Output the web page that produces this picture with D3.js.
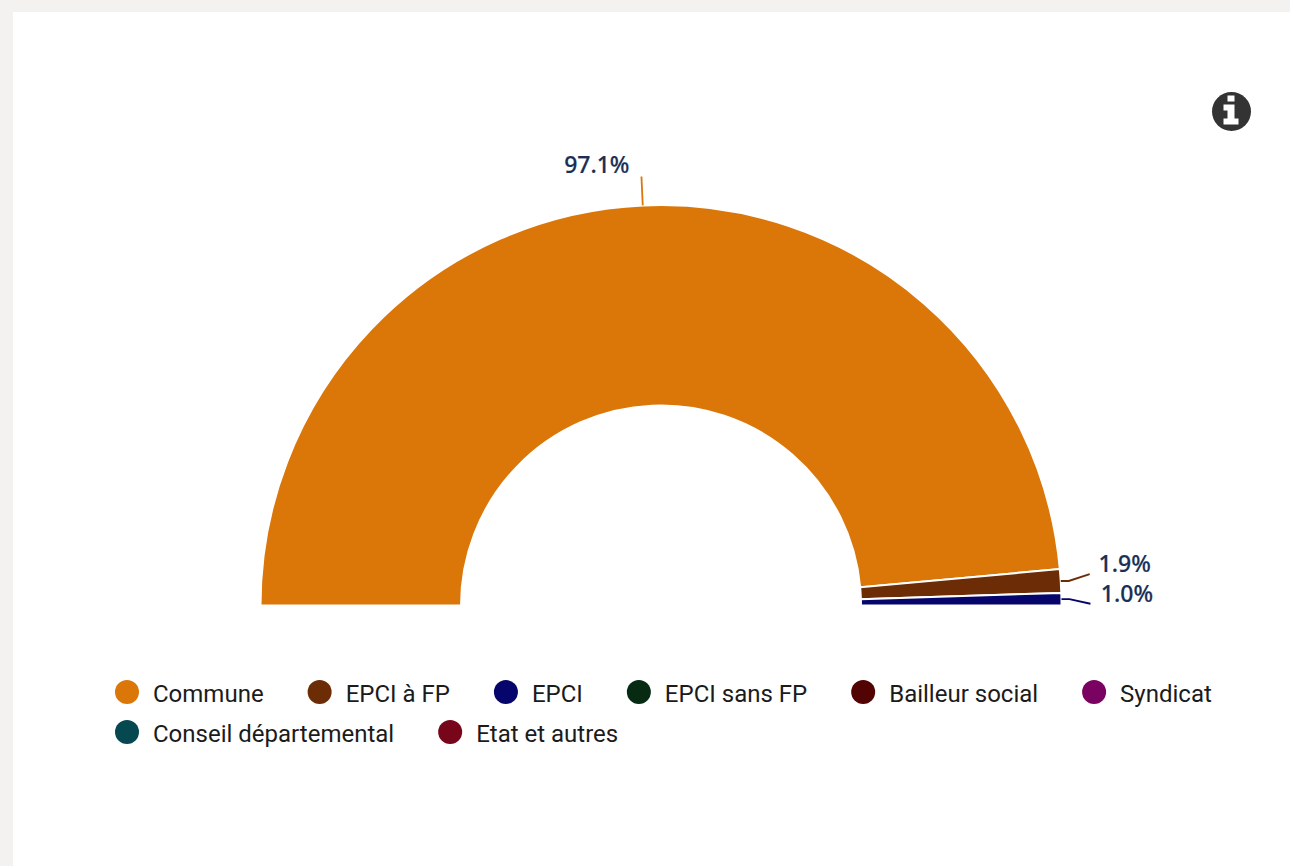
<!DOCTYPE html>
<html>
<head>
<meta charset="utf-8">
<script src="https://d3js.org/d3.v7.min.js"></script>
<style>
html, body { margin: 0; padding: 0; background: #f3f2f0; overflow: hidden; }
svg { display: block; }
.legend-label { font: 400 24px Roboto, sans-serif; fill: #1b1b1b; }
.value-label { font: 500 23px "Noto Sans", sans-serif; fill: #1a2f55; stroke: #1a2f55; stroke-width: 0.2px; }
</style>
</head>
<body>
<svg class="donut"></svg>
<script>
var categories = ["Commune", "EPCI à FP", "EPCI", "EPCI sans FP", "Bailleur social", "Syndicat", "Conseil départemental", "Etat et autres"];
var shares = [97.1, 1.9, 1.0, 0, 0, 0, 0, 0];
var colors = ["#db7609", "#6b2c06", "#05056b", "#062a12", "#520303", "#7a0361", "#05484f", "#78061a"];

var WIDTH = 1290;
var HEIGHT = 866;
var CENTER = { x: 661, y: 605.5 };
var OUTER_RADIUS = 400.5;
var INNER_RADIUS = 200;
var LEADER_LENGTH = 29;

var svg = d3.select(".donut").attr("width", WIDTH).attr("height", HEIGHT);

// white card on the grey page
svg.append("rect")
    .attr("x", 13).attr("y", 12)
    .attr("width", WIDTH - 13).attr("height", HEIGHT - 12)
    .attr("fill", "#fff");

var rows = categories.map(function(name, i) {
    return { name: name, share: shares[i], color: colors[i] };
});

var pie = d3.pie()
    .sort(null)
    .value(function(d) { return d.share; })
    .startAngle(-Math.PI / 2)
    .endAngle(Math.PI / 2);

var arc = d3.arc().innerRadius(INNER_RADIUS).outerRadius(OUTER_RADIUS);

var g = svg.append("g")
    .attr("transform", "translate(" + CENTER.x + "," + CENTER.y + ")");

var slices = pie(rows).filter(function(d) { return d.value > 0; });

g.selectAll(".slice")
    .data(slices)
    .enter().append("path")
    .attr("class", "slice")
    .attr("d", arc)
    .attr("fill", function(d) { return d.data.color; })
    .attr("stroke", "#fff")
    .attr("stroke-width", 2);

// nudges keep the two small slices' labels apart, elbow is the flat start of the leader
var leaderNudge = [0, -5, 5];
var leaderElbow = [0, 8, 8];
var labelOffset = [{ dx: -12, dy: -1 }, { dx: 35, dy: -10.5 }, { dx: 36.5, dy: -9.5 }];
var leaderPath = d3.line();

function polar(angle, r) {
    return [Math.sin(angle) * r, -Math.cos(angle) * r];
}

slices.forEach(function(d, i) {
    var mid = (d.startAngle + d.endAngle) / 2;
    var a = polar(mid, OUTER_RADIUS);
    var b = polar(mid, OUTER_RADIUS + LEADER_LENGTH);
    b[1] += leaderNudge[i];
    g.append("path")
        .attr("d", leaderPath([a, [a[0] + leaderElbow[i], a[1]], b]))
        .attr("fill", "none")
        .attr("stroke", d.data.color)
        .attr("stroke-width", 1.8);
    g.append("text")
        .attr("class", "value-label")
        .attr("x", b[0] + labelOffset[i].dx)
        .attr("y", b[1] + labelOffset[i].dy)
        .attr("dy", i === 0 ? "-0.1em" : "0.35em")
        .attr("text-anchor", i === 0 ? "end" : "middle")
        .text(d.value.toFixed(1) + "%");
});

// legend, wraps like the original
var legendX = 115, legendRight = 1230, legendY = 693, rowStep = 40, gap = 44;
var legend = svg.append("g").attr("class", "legend");
var cx = legendX, cy = legendY;
rows.forEach(function(d) {
    var item = legend.append("g");
    item.append("circle").attr("cx", 12).attr("cy", -1).attr("r", 12).attr("fill", d.color);
    var t = item.append("text")
        .attr("class", "legend-label")
        .attr("x", 38).attr("y", 0.5).attr("dy", "0.35em")
        .text(d.name);
    var w = 38 + t.node().getComputedTextLength();
    if (cx + w > legendRight) {
        cx = legendX;
        cy += rowStep;
    }
    item.attr("transform", "translate(" + cx + "," + cy + ")");
    cx += w + gap;
});

// info icon, top right
var info = svg.append("g").attr("transform", "translate(1231.5,111.5)");
info.append("circle").attr("r", 19.5).attr("fill", "#333");
info.append("path")
    .attr("fill", "#fff")
    .attr("d", "M-4,-16H3V-10H-4ZM-8,-7H3V7H7V13H-8V7H-4V-1H-8Z");
</script>
</body>
</html>
